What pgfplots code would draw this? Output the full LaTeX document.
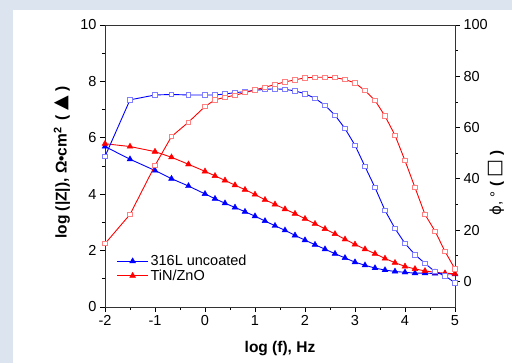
\documentclass[border=0pt]{standalone}
\usepackage{pgfplots}
\pgfplotsset{compat=1.18}
\usepackage{fontspec}
\setmainfont{Liberation Sans}
\newfontfamily\symfont{DejaVu Sans}
\definecolor{bgc}{HTML}{DCE4EF}
\definecolor{lblue}{HTML}{7F7FFF}
\definecolor{lred}{HTML}{FF8080}

\pgfplotstableread{
x z316 ztin
-2 5.69 5.79
-1.5 5.24 5.69
-1 4.84 5.51
-0.67 4.55 5.31
-0.33 4.29 5.06
0 4.01 4.81
0.2 3.84 4.65
0.4 3.68 4.49
0.6 3.53 4.32
0.8 3.38 4.16
1.0 3.22 3.99
1.2 3.05 3.80
1.4 2.88 3.64
1.6 2.72 3.47
1.8 2.54 3.31
2.0 2.37 3.13
2.2 2.21 2.95
2.4 2.05 2.77
2.6 1.89 2.59
2.8 1.74 2.40
3.0 1.59 2.22
3.2 1.48 2.05
3.4 1.38 1.89
3.6 1.31 1.72
3.8 1.26 1.57
4.0 1.23 1.44
4.2 1.20 1.35
4.4 1.20 1.28
4.6 1.19 1.23
4.8 1.18 1.20
5.0 1.16 1.18
}\zdata

\pgfplotstableread{
x p316 ptin
-2 48.7 14.7
-1.5 70.8 26.1
-1 72.7 45.2
-0.67 72.9 56.5
-0.33 72.7 62.1
0 72.7 68.2
0.2 72.7 70.8
0.4 73.1 71.8
0.6 73.6 72.6
0.8 74.0 73.6
1.0 74.5 74.7
1.2 74.9 75.7
1.4 75.1 76.8
1.6 74.9 77.8
1.8 74.3 78.6
2.0 73.2 79.4
2.2 71.4 79.6
2.4 68.7 79.6
2.6 64.8 79.5
2.8 59.6 78.7
3.0 53.1 77.4
3.2 44.8 74.4
3.4 36.6 70.6
3.6 27.7 64.5
3.8 20.6 57.0
4.0 14.8 47.1
4.2 10.4 36.6
4.4 7.0 26.1
4.6 3.8 19.6
4.8 2.2 11.7
5.0 -0.6 4.8
}\pdata

\begin{document}
\begin{tikzpicture}
\fill[bgc] (-105bp,-56bp) rectangle (407bp,307bp);
\fill[white] (-92bp,-56bp) rectangle (407bp,297bp);
\pgfplotsset{
  common/.style={
    width=350bp, height=282bp, scale only axis,
    at={(0,0)}, anchor=south west,
    xmin=-2, xmax=5,
    tick align=outside,
    major tick length=5bp, minor tick length=3bp,
    every tick/.style={black, line width=0.7bp},
    axis line style={black!80, line width=0.8bp},
    tick label style={font=\fontsize{14.5bp}{16bp}\selectfont},
    /pgf/number format/assume math mode=true,
  },
  longleg/.style={legend image code/.code={\draw[mark repeat=2,mark phase=2] plot coordinates {(0bp,0bp) (15.5bp,0bp) (31bp,0bp)};}},
}
\begin{axis}[common,
  ymin=0, ymax=10,
  xtick={-2,-1,0,1,2,3,4,5},
  xticklabels={-2,-1,0,1,2,3,4,5},
  minor x tick num=1,
  ytick={0,2,4,6,8,10},
  minor y tick num=1,
  xtick pos=bottom, ytick pos=left,
  xlabel={\bfseries log (f), Hz},
  ylabel={\bfseries log (|Z|), Ω•cm\textsuperscript{2} \,( {\symfont\fontsize{19bp}{20bp}\selectfont ▲} )},
  xlabel style={at={(axis description cs:0.5,-0.149)}, anchor=center, font=\fontsize{15.5bp}{18bp}\selectfont},
  ylabel style={at={(axis description cs:-0.123,0.512)}, rotate=0, anchor=center, font=\fontsize{15.5bp}{18bp}\selectfont},
  legend style={at={(axis description cs:0.03,0.195)}, anchor=north west, draw=none, fill=none,
    font=\fontsize{14.5bp}{16bp}\selectfont, row sep=-1.5bp, inner sep=1bp},
  legend cell align=left,
]
\addplot[blue, line width=0.9bp, mark=triangle*, mark size=3.4bp, mark options={fill=blue, draw=blue, line width=0.4bp}, longleg] table[x=x, y=z316] {\zdata};
\addlegendentry{316L uncoated}
\addplot[red, line width=0.9bp, mark=triangle*, mark size=3.4bp, mark options={fill=red, draw=red, line width=0.4bp}, longleg] table[x=x, y=ztin] {\zdata};
\addlegendentry{TiN/ZnO}
\end{axis}
\begin{axis}[common,
  ymin=-10, ymax=100,
  axis y line*=right, axis x line=none,
  ytick={0,20,40,60,80,100},
  minor y tick num=1,
  ylabel={{\symfont ϕ}, ° {\bfseries ( {\symfont\bfseries\fontsize{19bp}{20bp}\selectfont □} )}},
  ylabel style={at={(axis description cs:1.118,0.44)}, rotate=0, anchor=center, font=\fontsize{15bp}{16bp}\selectfont},
]
\addplot[blue, line width=0.9bp, mark=square*, mark size=2.2bp, mark options={fill=white, draw=lblue, line width=0.8bp}] table[x=x, y=p316] {\pdata};
\addplot[red, line width=0.9bp, mark=square*, mark size=2.2bp, mark options={fill=white, draw=lred, line width=0.8bp}] table[x=x, y=ptin] {\pdata};
\end{axis}
\end{tikzpicture}
\end{document}
